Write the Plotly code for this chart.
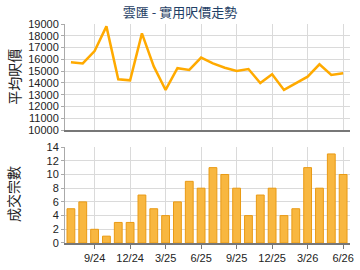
import plotly.graph_objects as go

months = ["7/24","8/24","9/24","10/24","11/24","12/24","1/25","2/25","3/25","4/25","5/25","6/25",
          "7/25","8/25","9/25","10/25","11/25","12/25","1/26","2/26","3/26","4/26","5/26","6/26"]
avg_price = [15750, 15650, 16700, 18800, 14300, 14220, 18200, 15400, 13400, 15250, 15100, 16150,
             15660, 15290, 15010, 15180, 13990, 14730, 13400, 13960, 14530, 15580, 14670, 14810]
deals = [5, 6, 2, 1, 3, 3, 7, 5, 4, 6, 9, 8, 11, 10, 8, 4, 7, 8, 4, 5, 11, 8, 13, 10]
tick_labels = ["9/24", "12/24", "3/25", "6/25", "9/25", "12/25", "3/26", "6/26"]

idx = list(range(len(months)))
tick_idx = [months.index(t) for t in tick_labels]

fig = go.Figure()
fig.add_trace(go.Scatter(x=idx, y=avg_price, mode="lines", line=dict(color="#FFAA00", width=2.5),
                         xaxis="x", yaxis="y", showlegend=False, hoverinfo="skip"))
fig.add_trace(go.Bar(x=idx, y=deals, width=0.66,
                     marker=dict(color="#F8B740", line=dict(color="#E99A14", width=1)),
                     xaxis="x2", yaxis="y2", showlegend=False, hoverinfo="skip"))

font_lat = "Liberation Sans, Arial, sans-serif"
grid = "#DADADA"
xr = [-0.5, 23.58]

fig.update_layout(
    width=360, height=270,
    margin=dict(l=65, r=6, t=24, b=27),
    paper_bgcolor="white", plot_bgcolor="white",
    font=dict(family=font_lat, size=11, color="#222"),
    title=dict(text="雲匯 - 實用呎價走勢", x=0.5, xanchor="center", y=0.955, yanchor="middle",
               font=dict(family="Noto Sans CJK TC", size=13, color="#1F3F66")),
    bargap=0.3,
    xaxis=dict(domain=[0, 1], range=xr, tickvals=tick_idx, ticktext=[""] * len(tick_idx),
               showgrid=True, gridcolor=grid, gridwidth=1, zeroline=False,
               showline=True, linecolor="#777", linewidth=1.5, ticks="", anchor="y"),
    yaxis=dict(domain=[0.516, 1], range=[10000, 19000], dtick=1000, tick0=10000, tickformat="d",
               showgrid=True, gridcolor=grid, zeroline=False, showline=True, linecolor="#AAA",
               ticks="outside", ticklen=3, tickcolor="#AAA", tickfont=dict(size=11, color="#222"),
               anchor="x"),
    xaxis2=dict(domain=[0, 1], range=xr, tickvals=tick_idx, ticktext=tick_labels,
                showgrid=True, gridcolor=grid, zeroline=False,
                showline=True, linecolor="#777", linewidth=1.5, ticks="outside", ticklen=4,
                tickcolor="#777", tickfont=dict(size=11, color="#222"), anchor="y2"),
    yaxis2=dict(domain=[0, 0.438], range=[0, 14], dtick=2, tickformat="d",
                showgrid=True, gridcolor=grid, zeroline=False, showline=True, linecolor="#AAA",
                ticks="outside", ticklen=3, tickcolor="#AAA", tickfont=dict(size=11, color="#222"),
                anchor="x2"),
    annotations=[
        dict(text="平均呎價", x=-0.18, y=0.758, xref="paper", yref="paper", textangle=-90,
             showarrow=False, xanchor="center", yanchor="middle",
             font=dict(family="Noto Sans CJK TC", size=14, color="#222")),
        dict(text="成交宗數", x=-0.18, y=0.222, xref="paper", yref="paper", textangle=-90,
             showarrow=False, xanchor="center", yanchor="middle",
             font=dict(family="Noto Sans CJK TC", size=14, color="#222")),
    ],
)

fig.write_html("out.html")
